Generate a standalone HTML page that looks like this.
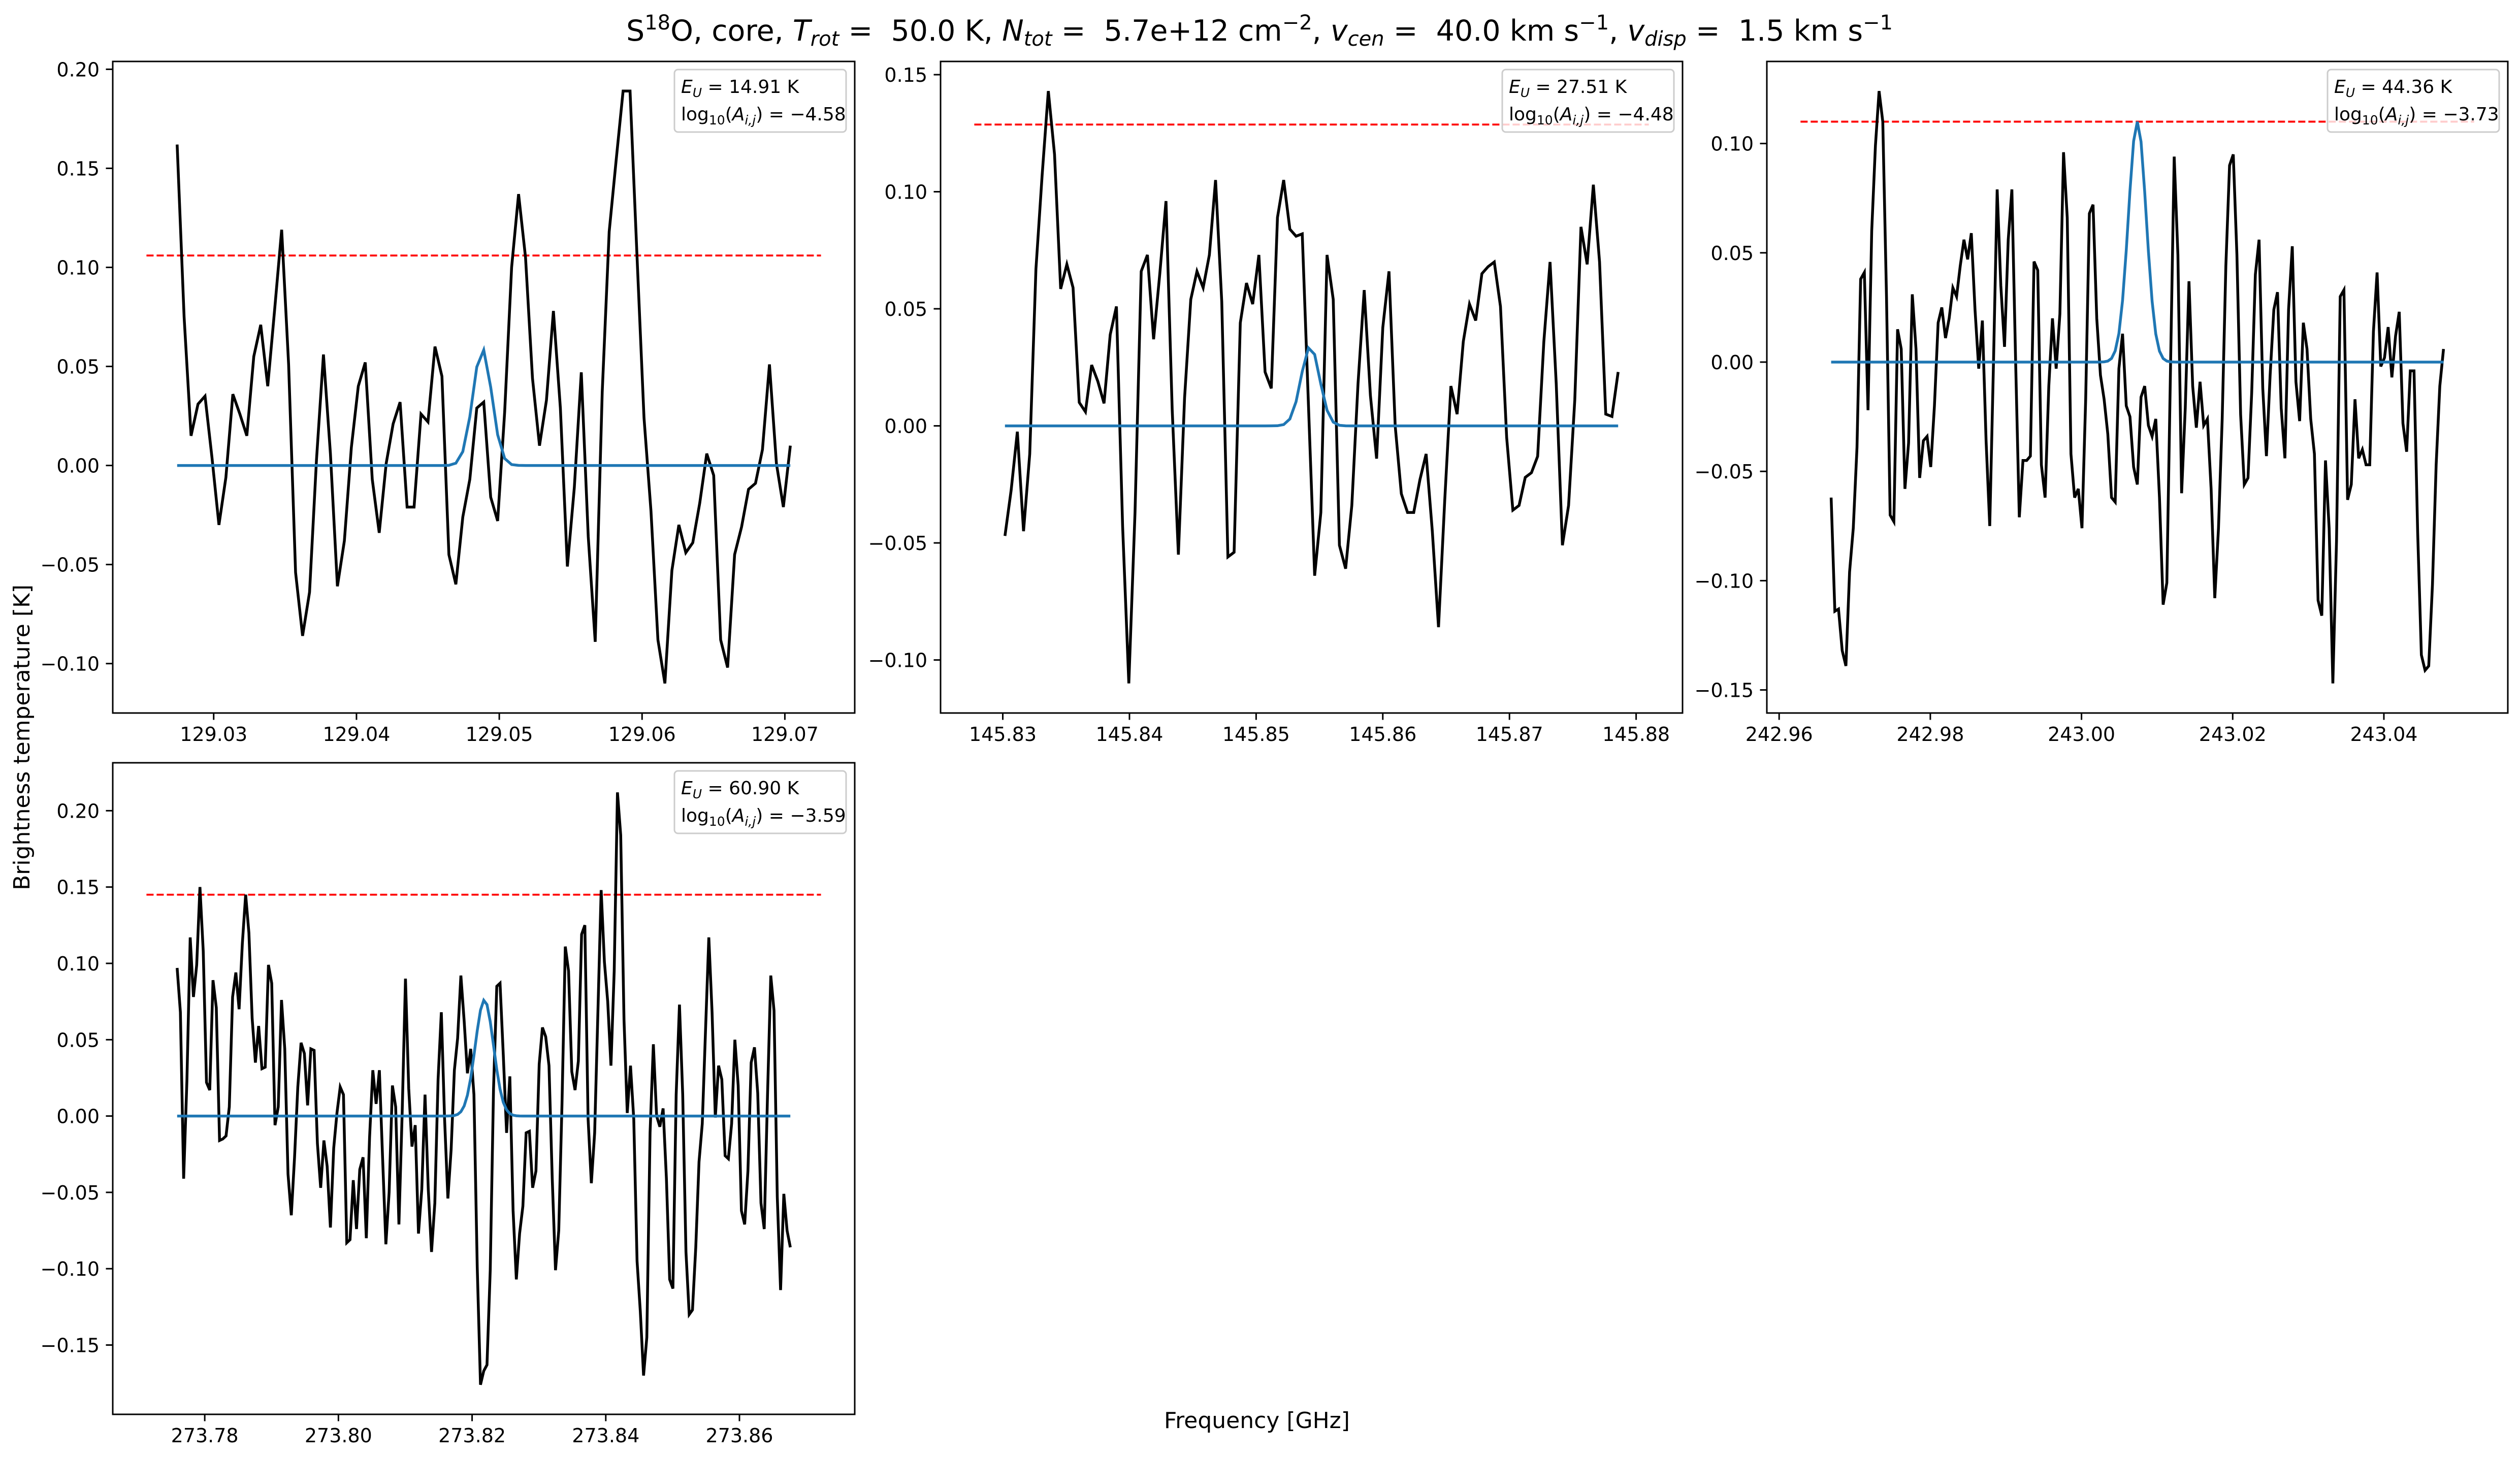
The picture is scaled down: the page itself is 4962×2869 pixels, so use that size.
<!DOCTYPE html>
<html>
<head>
<meta charset="utf-8">
<style>
html,body{margin:0;padding:0;background:#fff;}
svg{display:block;}
text{font-family:"DejaVu Sans","Liberation Sans",sans-serif;fill:#000;}
</style>
</head>
<body>
<svg id="fig" xmlns="http://www.w3.org/2000/svg" width="4962" height="2869" viewBox="0 0 4962 2869">
<rect x="0" y="0" width="4962" height="2869" fill="#fff"/>
<text x="2480" y="80" font-size="57" text-anchor="middle" xml:space="preserve">S<tspan font-size="40" dy="-22">18</tspan><tspan dy="22">O, core, </tspan><tspan font-style="italic">T</tspan><tspan font-style="italic" font-size="40" dy="10">rot</tspan><tspan dy="-10"> =&#160; 50.0 K, </tspan><tspan font-style="italic">N</tspan><tspan font-style="italic" font-size="40" dy="10">tot</tspan><tspan dy="-10"> =&#160; 5.7e+12 cm</tspan><tspan font-size="40" dy="-22">−2</tspan><tspan dy="22">, </tspan><tspan font-style="italic">v</tspan><tspan font-style="italic" font-size="40" dy="10">cen</tspan><tspan dy="-10"> =&#160; 40.0 km s</tspan><tspan font-size="40" dy="-22">−1</tspan><tspan dy="22">, </tspan><tspan font-style="italic">v</tspan><tspan font-style="italic" font-size="40" dy="10">disp</tspan><tspan dy="-10"> =&#160; 1.5 km s</tspan><tspan font-size="40" dy="-22">−1</tspan></text>
<text x="2475" y="2812" font-size="44" text-anchor="middle">Frequency [GHz]</text>
<text x="0" y="0" font-size="44" text-anchor="middle" transform="translate(58,1452) rotate(-90)">Brightness temperature [K]</text>
</svg>
<script>
// ---------- data ----------
const channelStep = 0.000488;

const p1Start = 129.02744;
const p1Values = [0.162,0.075,0.015,0.031,0.035,0.004,-0.030,-0.006,0.036,0.026,0.015,0.055,0.071,0.040,0.079,0.119,0.051,-0.054,-0.086,-0.064,0.003,0.056,0.006,-0.061,-0.038,0.009,0.040,0.052,-0.007,-0.034,0.001,0.021,0.032,-0.021,-0.021,0.026,0.022,0.060,0.045,-0.045,-0.060,-0.026,-0.007,0.029,0.032,-0.016,-0.028,0.027,0.100,0.137,0.105,0.044,0.010,0.033,0.078,0.029,-0.051,-0.011,0.047,-0.036,-0.089,0.037,0.118,0.154,0.189,0.189,0.105,0.024,-0.023,-0.088,-0.110,-0.053,-0.030,-0.044,-0.039,-0.019,0.006,-0.005,-0.088,-0.102,-0.045,-0.031,-0.012,-0.009,0.008,0.051,0.001,-0.021,0.010];
const p1Model = [0.059, 129.04881, 0.00066]; // amplitude, centre GHz, sigma GHz
const p1Threshold = 0.106;
const p1XTicks = [129.03,129.04,129.05,129.06,129.07];
const p1YTicks = [-0.10,-0.05,0.00,0.05,0.10,0.15,0.20];
const p1Legend = ["14.91","−4.58"];

const p2Start = 145.83017;
const p2Step = 0.000489;
const p2Values = [-0.047,-0.0275,-0.0025,-0.045,-0.012,0.067,0.107,0.143,0.116,0.0585,0.069,0.059,0.010,0.006,0.026,0.019,0.0096,0.039,0.051,-0.043,-0.110,-0.037,0.066,0.073,0.037,0.065,0.096,0.007,-0.055,0.012,0.054,0.066,0.059,0.073,0.105,0.053,-0.056,-0.054,0.044,0.061,0.052,0.073,0.023,0.016,0.089,0.105,0.084,0.081,0.082,0.009,-0.064,-0.037,0.073,0.054,-0.051,-0.061,-0.034,0.018,0.058,0.013,-0.014,0.042,0.066,0.000,-0.029,-0.037,-0.037,-0.023,-0.012,-0.045,-0.086,-0.032,0.017,0.005,0.036,0.052,0.045,0.065,0.068,0.070,0.051,-0.005,-0.036,-0.034,-0.022,-0.020,-0.013,0.036,0.070,0.018,-0.051,-0.034,0.011,0.085,0.069,0.103,0.070,0.005,0.004,0.023];
const p2Model = [0.034, 145.85428, 0.00073];
const p2Threshold = 0.1287;
const p2XTicks = [145.83,145.84,145.85,145.86,145.87,145.88];
const p2YTicks = [-0.10,-0.05,0.00,0.05,0.10,0.15];
const p2Legend = ["27.51","−4.48"];

const p3Start = 242.96688;
const p3Values = [-0.062,-0.114,-0.113,-0.132,-0.139,-0.096,-0.076,-0.039,0.038,0.041,-0.022,0.060,0.099,0.124,0.110,0.030,-0.070,-0.073,0.015,0.006,-0.058,-0.037,0.031,0.006,-0.053,-0.036,-0.034,-0.048,-0.020,0.018,0.025,0.011,0.020,0.034,0.030,0.044,0.056,0.047,0.059,0.024,-0.003,0.019,-0.036,-0.075,-0.001,0.079,0.035,0.007,0.056,0.079,0.001,-0.071,-0.045,-0.045,-0.043,0.046,0.042,-0.047,-0.062,-0.011,0.020,-0.003,0.022,0.096,0.066,-0.042,-0.062,-0.058,-0.076,-0.017,0.068,0.072,0.020,-0.006,-0.017,-0.033,-0.062,-0.064,-0.003,0.013,-0.020,-0.025,-0.048,-0.056,-0.016,-0.011,-0.029,-0.034,-0.026,-0.062,-0.111,-0.101,-0.002,0.094,0.049,-0.060,-0.021,0.037,-0.011,-0.030,-0.009,-0.029,-0.026,-0.058,-0.108,-0.076,-0.026,0.044,0.090,0.095,0.049,-0.024,-0.056,-0.053,-0.014,0.040,0.056,-0.012,-0.043,-0.006,0.024,0.032,-0.021,-0.044,0.024,0.053,-0.009,-0.027,0.018,0.006,-0.026,-0.042,-0.109,-0.116,-0.045,-0.076,-0.147,-0.082,0.030,0.033,-0.063,-0.056,-0.017,-0.044,-0.040,-0.047,-0.047,0.014,0.041,-0.002,0.002,0.016,-0.007,0.012,0.023,-0.028,-0.041,-0.004,-0.004,-0.078,-0.134,-0.141,-0.139,-0.102,-0.047,-0.011,0.006];
const p3Model = [0.110, 243.00738, 0.00118];
const p3Threshold = 0.110;
const p3XTicks = [242.96,242.98,243.00,243.02,243.04];
const p3YTicks = [-0.15,-0.10,-0.05,0.00,0.05,0.10];
const p3Legend = ["44.36","−3.73"];

const p4Start = 273.77587;
const p4Values = [0.097,0.068,-0.041,0.023,0.117,0.078,0.099,0.150,0.108,0.022,0.017,0.089,0.071,-0.016,-0.015,-0.013,0.006,0.078,0.094,0.070,0.113,0.145,0.120,0.064,0.035,0.059,0.031,0.032,0.099,0.087,-0.006,0.006,0.076,0.044,-0.038,-0.065,-0.027,0.019,0.048,0.041,0.007,0.044,0.043,-0.018,-0.047,-0.016,-0.033,-0.073,-0.021,0.002,0.019,0.014,-0.083,-0.081,-0.042,-0.074,-0.035,-0.027,-0.080,-0.014,0.030,0.008,0.030,-0.028,-0.084,-0.050,0.020,0.006,-0.071,0.002,0.090,0.018,-0.020,-0.006,-0.077,-0.048,0.014,-0.048,-0.089,-0.057,0.024,0.068,-0.002,-0.054,-0.022,0.030,0.051,0.092,0.062,0.028,0.044,0.014,-0.099,-0.176,-0.167,-0.163,-0.101,0.018,0.085,0.087,0.040,-0.011,0.026,-0.062,-0.107,-0.077,-0.059,-0.011,-0.010,-0.047,-0.036,0.034,0.058,0.052,0.033,-0.041,-0.101,-0.075,0.008,0.111,0.095,0.029,0.017,0.036,0.119,0.125,-0.002,-0.044,-0.011,0.068,0.148,0.101,0.075,0.033,0.095,0.212,0.184,0.063,0.002,0.033,-0.002,-0.095,-0.128,-0.170,-0.145,-0.011,0.047,0.000,-0.007,0.005,-0.041,-0.107,-0.113,0.014,0.073,0.014,-0.089,-0.130,-0.127,-0.086,-0.030,-0.005,0.056,0.117,0.068,-0.001,0.033,0.024,-0.026,-0.028,-0.005,0.050,0.020,-0.062,-0.071,-0.036,0.035,0.045,0.015,-0.057,-0.074,0.014,0.092,0.069,-0.053,-0.114,-0.051,-0.075,-0.086];
const p4Model = [0.076, 273.82184, 0.00137];
const p4Threshold = 0.145;
const p4XTicks = [273.78,273.80,273.82,273.84,273.86];
const p4YTicks = [-0.15,-0.10,-0.05,0.00,0.05,0.10,0.15,0.20];
const p4Legend = ["60.90","−3.59"];

// ---------- drawing ----------
const NS = "http://www.w3.org/2000/svg";
const svg = document.getElementById("fig");
function mk(tag, attrs, parent){
  const e = document.createElementNS(NS, tag);
  for (const k in attrs) e.setAttribute(k, attrs[k]);
  (parent || svg).appendChild(e);
  return e;
}
function fmt(v){
  const s = v.toFixed(2);
  return (v < -1e-9) ? "−" + s.slice(1) : (s === "-0.00" ? "0.00" : s);
}

function drawPanel(id, box, start, step, values, model, thr, xt, yt, leg){
  const g = mk("g", {});
  
  
  const freqs = values.map((v, i) => start + i * step);
  const fmin = freqs[0], fmax = freqs[freqs.length - 1], w = fmax - fmin;
  const rx0 = fmin - 0.05 * w, rx1 = fmax + 0.05 * w;
  const xl0 = rx0 - 0.05 * (rx1 - rx0), xl1 = rx1 + 0.05 * (rx1 - rx0);
  const vmin = Math.min(...values), vmax = Math.max(...values);
  const yl0 = vmin - 0.05 * (vmax - vmin), yl1 = vmax + 0.05 * (vmax - vmin);
  const X = f => box[0] + (f - xl0) / (xl1 - xl0) * box[2];
  const Y = v => box[1] + box[3] - (v - yl0) / (yl1 - yl0) * box[3];

  const red = mk("line", {x1: X(rx0), x2: X(rx1), y1: Y(thr), y2: Y(thr), stroke: "#ff0000", "stroke-width": 3.8, "stroke-dasharray": "14,6"}, g);
  
  

  const dpts = freqs.map((f, i) => X(f).toFixed(1) + "," + Y(values[i]).toFixed(1)).join(" ");
  const obs = mk("polyline", {points: dpts, fill: "none", stroke: "#000", "stroke-width": 5.5, "stroke-linejoin": "miter"}, g);
  
  

  const mpts = freqs.map(f => {
    const m = model[0] * Math.exp(-Math.pow(f - model[1], 2) / (2 * model[2] * model[2]));
    return X(f).toFixed(1) + "," + Y(m).toFixed(1);
  }).join(" ");
  const mod = mk("polyline", {points: mpts, fill: "none", stroke: "#1f77b4", "stroke-width": 5.5}, g);
  
  

  xt.forEach(t => {
    const x = X(t);
    const tk = mk("line", {x1: x, x2: x, y1: box[1] + box[3], y2: box[1] + box[3] + 13.5, stroke: "#000", "stroke-width": 3}, g);
    
    
    const lb = mk("text", {x: x, y: box[1] + box[3] + 55, "font-size": 38, "text-anchor": "middle"}, g);
    lb.textContent = t.toFixed(2);
    
    
  });
  yt.forEach(t => {
    const y = Y(t);
    const tk = mk("line", {x1: box[0] - 13.5, x2: box[0], y1: y, y2: y, stroke: "#000", "stroke-width": 3}, g);
    
    
    const lb = mk("text", {x: box[0] - 26, y: y + 14, "font-size": 38, "text-anchor": "end"}, g);
    lb.textContent = fmt(t);
    
    
  });

  const fr = mk("rect", {x: box[0], y: box[1], width: box[2], height: box[3], fill: "none", stroke: "#000", "stroke-width": 3}, g);
  
  

  const lx = box[0] + box[2] - 17 - 338, ly = box[1] + 16;
  const lg = mk("g", {}, g);
  
  
  mk("rect", {x: lx, y: ly, width: 338, height: 123, rx: 7, fill: "#fff", "fill-opacity": 0.8, stroke: "#cccccc", "stroke-width": 3}, lg);
  const t1 = mk("text", {x: lx + 13, y: ly + 46, "font-size": 36}, lg);
  
  
  t1.innerHTML = '<tspan font-style="italic">E</tspan><tspan font-style="italic" font-size="25" dy="8">U</tspan><tspan dy="-8"> = ' + leg[0] + ' K</tspan>';
  const t2 = mk("text", {x: lx + 13, y: ly + 100, "font-size": 36}, lg);
  
  
  t2.innerHTML = 'log<tspan font-size="25" dy="8">10</tspan><tspan dy="-8">(</tspan><tspan font-style="italic">A</tspan><tspan font-style="italic" font-size="25" dy="8">i,j</tspan><tspan dy="-8">) = ' + leg[1] + '</tspan>';
}

drawPanel("panel-129ghz", [222, 121, 1461, 1283], p1Start, channelStep, p1Values, p1Model, p1Threshold, p1XTicks, p1YTicks, p1Legend);
drawPanel("panel-145ghz", [1852, 121, 1461, 1283], p2Start, p2Step, p2Values, p2Model, p2Threshold, p2XTicks, p2YTicks, p2Legend);
drawPanel("panel-243ghz", [3479, 121, 1459, 1283], p3Start, channelStep, p3Values, p3Model, p3Threshold, p3XTicks, p3YTicks, p3Legend);
drawPanel("panel-274ghz", [222, 1502, 1461, 1283], p4Start, channelStep, p4Values, p4Model, p4Threshold, p4XTicks, p4YTicks, p4Legend);
</script>
</body>
</html>
